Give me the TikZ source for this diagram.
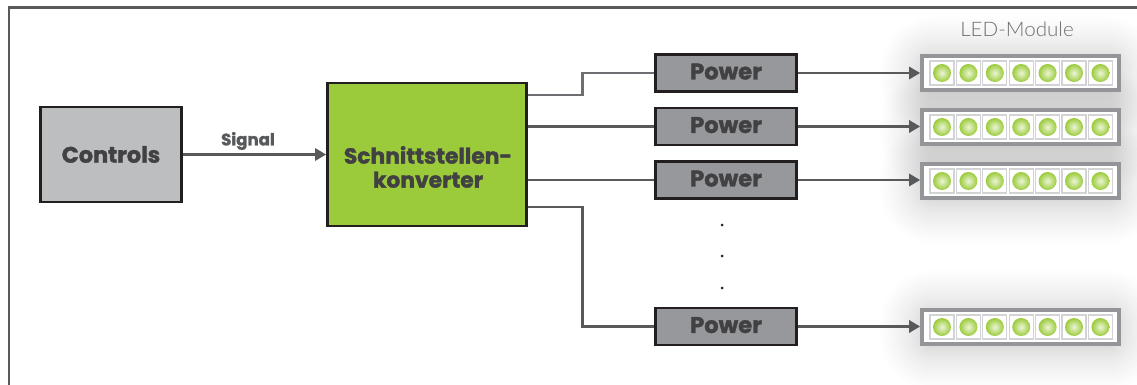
\documentclass[tikz,border=0pt]{standalone}
\usepackage{fontspec}
\setmainfont{Poppins}[BoldFont={Poppins Bold},BoldFeatures={FakeBold=1.6}]
\newfontfamily\lightfont{Lato Light}[FakeStretch=1.03]
\usetikzlibrary{arrows.meta}
\definecolor{txt}{HTML}{414042}
\definecolor{wirec}{HTML}{58595B}
\definecolor{ink}{HTML}{231F20}
\definecolor{ledgreen}{HTML}{9BCB3B}
\tikzset{
  x=1pt,y=-1pt,
  block/.style={draw=ink,line width=2.6pt,inner sep=0pt,text=txt,align=center},
  ctrlbox/.style={block,fill={rgb,255:red,188;green,190;blue,192},minimum width=141pt,minimum height=95pt,font=\bfseries\fontsize{22.4}{24}\selectfont},
  convbox/.style={block,fill=ledgreen,minimum width=199pt,minimum height=143pt},
  convlabel/.style={text=txt,align=center,inner sep=0pt,font=\bfseries\fontsize{21.8}{24}\selectfont},
  powerbox/.style={block,fill={rgb,255:red,150;green,152;blue,155},minimum width=141pt,minimum height=37pt,text depth=3pt,font=\bfseries\fontsize{22.6}{24}\selectfont},
  wire/.style={draw=wirec,line width=2.8pt},
  arrowwire/.style={wire,-{Triangle[length=11pt,width=12pt]}},
  modbox/.style={draw={rgb,255:red,147;green,149;blue,152},line width=3.6pt,fill=white,minimum width=197pt,minimum height=34pt,inner sep=0pt},
  cell/.style={draw={rgb,255:red,209;green,211;blue,212},line width=1.2pt,fill=white,minimum width=24pt,minimum height=24pt,inner sep=0pt},
  led/.style={circle,minimum size=18pt,inner sep=0pt,inner color={rgb,255:red,236;green,245;blue,215},outer color=ledgreen},
  pdot/.style={circle,fill=ink,minimum size=3pt,inner sep=0pt},
}
\newcommand{\moduleshadow}[1]{%
  \foreach \i in {1,...,26}{
    \pgfmathsetmacro{\off}{\i*\i/14-4}
    \pgfmathsetmacro{\rad}{\i*\i/14+4}
    \fill[black,opacity=.0085,rounded corners=\rad pt]
      (1020-95-\off,#1+3-15-\off) rectangle (1020+95+\off,#1+3+15+\off);
  }}
\newcommand{\ledmodule}[2]{%
  \node[modbox] (m#1) at (1020.5,#2) {};
  \foreach \k in {0,...,6}{
    \node[cell] (c#1\k) at (942+\k*26.4,#2) {};
    \node[led] at (c#1\k) {};
  }}
\begin{document}
\begin{tikzpicture}
\useasboundingbox (0,0) rectangle (1137,385);
\begin{scope}
\clip (0,0) rectangle (1137,385);
\moduleshadow{73}\moduleshadow{127}\moduleshadow{181}\moduleshadow{327}
\end{scope}
\fill[white] (0,0) rectangle (1137,6);
\draw[wirec,line width=2.8pt] (1137,7.5) -- (9,7.5) -- (9,385);

\node[ctrlbox] (ctrl) at (111,154.5) {Controls};
\node[convbox] (conv) at (427,154.5) {};
\node[convlabel] (convtext) at (428,167) {Schnittstellen-\\konverter};
\node[powerbox] (p1) at (726,73) {Power};
\node[powerbox] (p2) at (726,126.5) {Power};
\node[powerbox] (p3) at (726,180) {Power};
\node[powerbox] (p4) at (726,326.5) {Power};

\ledmodule{1}{73}
\ledmodule{2}{127}
\ledmodule{3}{181}
\ledmodule{4}{327}

\node[font=\lightfont\fontsize{20}{22}\selectfont,text={rgb,255:red,109;green,110;blue,113}] (title) at (1017,29) {LED-Module};
\node[font=\bfseries\fontsize{16.6}{18}\selectfont,text=wirec] (sig) at (248,141) {Signal};

\coordinate (s1) at (conv.east |- 0,95);
\coordinate (s2) at (conv.east |- p2.west);
\coordinate (s3) at (conv.east |- p3.west);
\coordinate (s4) at (conv.east |- 0,207);
\coordinate (k1) at (582.5,73);
\coordinate (k4) at (582.5,326.5);

\draw[arrowwire] (ctrl.east) -- (conv.west);
\draw[wire,draw={rgb,255:red,109;green,110;blue,113}] (s1) -| (k1) -- (p1.west);
\draw[wire] (s2) -- (p2.west);
\draw[wire] (s3) -- (p3.west);
\draw[wire] (s4) -| (k4) -- (p4.west);
\draw[arrowwire] (p1.east) -- (m1.west);
\draw[arrowwire] (p2.east) -- (m2.west |- p2.east);
\draw[arrowwire] (p3.east) -- (m3.west |- p3.east);
\draw[arrowwire] (p4.east) -- (m4.west |- p4.east);

\node[pdot] (d1) at (722,225) {};
\node[pdot] (d2) at (722,256) {};
\node[pdot] (d3) at (722,288) {};
\end{tikzpicture}
\end{document}
